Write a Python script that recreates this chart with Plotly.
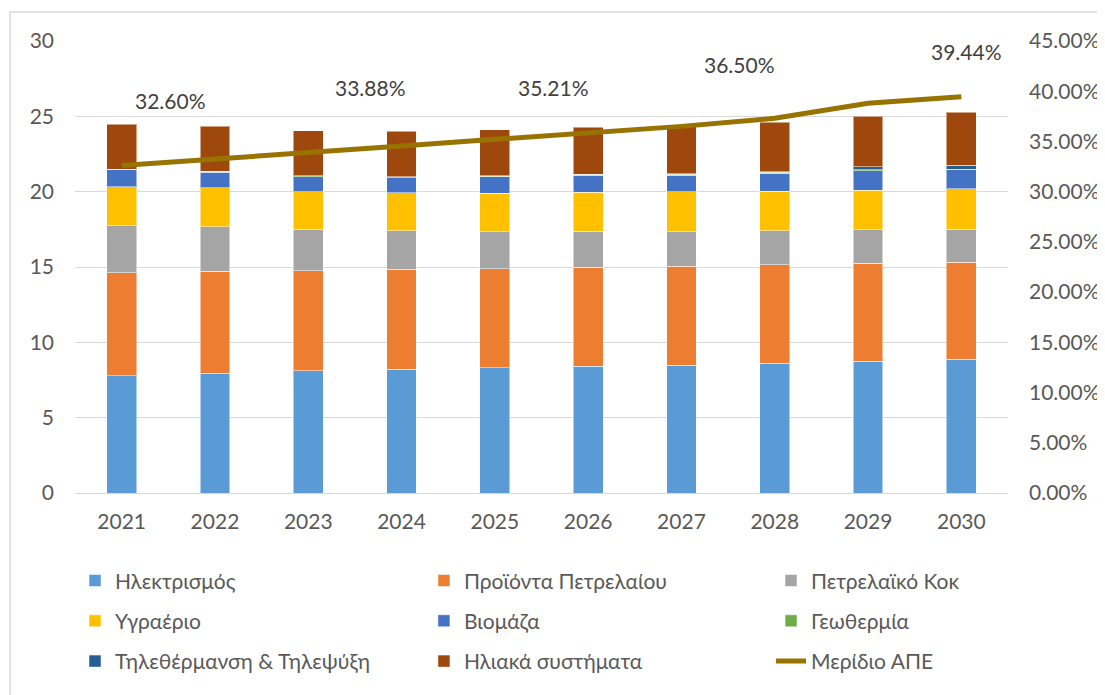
import plotly.graph_objects as go

years = ["2021", "2022", "2023", "2024", "2025", "2026", "2027", "2028", "2029", "2030"]

electricity = [7.79, 7.94, 8.10, 8.20, 8.30, 8.40, 8.48, 8.61, 8.74, 8.87]
oil_products = [6.83, 6.79, 6.65, 6.65, 6.57, 6.58, 6.57, 6.54, 6.51, 6.46]
pet_coke = [3.12, 2.95, 2.75, 2.54, 2.47, 2.39, 2.29, 2.24, 2.21, 2.17]
lpg = [2.59, 2.58, 2.50, 2.54, 2.57, 2.59, 2.64, 2.65, 2.65, 2.68]
biomass = [1.11, 1.04, 1.00, 1.00, 1.07, 1.12, 1.12, 1.19, 1.27, 1.26]
geothermal = [0.05, 0.05, 0.05, 0.06, 0.06, 0.07, 0.07, 0.07, 0.06, 0.06]
district = [0.01, 0.01, 0.01, 0.01, 0.01, 0.01, 0.02, 0.02, 0.20, 0.25]
solar = [2.98, 2.99, 2.99, 3.00, 3.05, 3.12, 3.13, 3.28, 3.38, 3.52]
res_share = [0.3260, 0.3322, 0.3388, 0.3455, 0.3521, 0.3587, 0.3650, 0.3730, 0.3880, 0.3944]

label_years = ["2021", "2023", "2025", "2027", "2030"]
label_values = [0.3260, 0.3388, 0.3521, 0.3650, 0.3944]

names = ["Ηλεκτρισμός", "Προϊόντα Πετρελαίου", "Πετρελαϊκό Κοκ", "Υγραέριο", "Βιομάζα",
         "Γεωθερμία", "Τηλεθέρμανση & Τηλεψύξη", "Ηλιακά συστήματα"]
line_name = "Μερίδιο ΑΠΕ"

series = [electricity, oil_products, pet_coke, lpg, biomass, geothermal, district, solar]
colors = ["#5B9BD5", "#ED7D31", "#A5A5A5", "#FFC000", "#4472C4", "#70AD47", "#255E91", "#9E480E"]
# legend column assignment (Excel lays entries row by row across 3 columns)
legend_cols = ["legend", "legend2", "legend3", "legend", "legend2", "legend3", "legend", "legend2"]

label_xshift = [49, 62, 59, 58, 5]
label_yshift = [65, 65, 52, 62, 45]

FONT = "Lato"
TXT = "#595959"
FS = 21

fig = go.Figure()
for name, vals, col, lg in zip(names, series, colors, legend_cols):
    fig.add_trace(go.Bar(
        x=years, y=vals, name=name, marker_color=col,
        marker_line=dict(color="rgba(255,255,255,0.5)", width=1),
        legend=lg, legendgroup=name,
    ))

fig.add_trace(go.Scatter(
    x=years, y=res_share, name=line_name, yaxis="y2", mode="lines",
    line=dict(color="#997300", width=5), legend="legend3", legendgroup=line_name,
))

for yr, v, dx, dy in zip(label_years, label_values, label_xshift, label_yshift):
    fig.add_annotation(x=years.index(yr), y=v, xref="x", yref="y2", text=f"{v*100:.2f}%",
                       showarrow=False, xshift=dx, yshift=dy,
                       font=dict(family=FONT, size=FS, color="#404040"))

legend_common = dict(orientation="v", yanchor="top", y=-0.149, xanchor="left",
                     font=dict(family=FONT, size=FS, color=TXT), tracegroupgap=10,
                     bgcolor="rgba(0,0,0,0)", itemwidth=30)

# the page body has an 8px margin, so margins are offset to keep the plot area in place
fig.update_layout(
    width=1105, height=695,
    margin=dict(l=67, r=105, t=33, b=210, autoexpand=False),
    paper_bgcolor="white", plot_bgcolor="white",
    barmode="stack", bargap=0.68,
    font=dict(family=FONT, size=FS, color=TXT),
    showlegend=True,
    legend=dict(x=0.0, **legend_common),
    legend2=dict(x=0.374, **legend_common),
    legend3=dict(x=0.746, **legend_common),
    xaxis=dict(type="category", range=[-0.5, len(years) - 0.5], autorange=False,
               showgrid=False, showline=True, linecolor="#d9d9d9", linewidth=1,
               ticks="", tickfont=dict(family=FONT, size=FS, color=TXT),
               ticklabelstandoff=10),
    yaxis=dict(range=[0, 30], dtick=5, showgrid=True, gridcolor="#d9d9d9", gridwidth=1,
               zeroline=False, showline=False, ticks="",
               tickfont=dict(family=FONT, size=FS, color=TXT), ticklabelstandoff=20),
    yaxis2=dict(range=[0, 0.45], dtick=0.05, tickformat=".2%", overlaying="y", side="right",
                showgrid=False, zeroline=False, showline=False, ticks="",
                tickfont=dict(family=FONT, size=FS, color=TXT), ticklabelstandoff=20),
    shapes=[dict(type="rect", xref="paper", yref="paper",
                 x0=(10 - 75) / 933, x1=1.2, y0=-0.6, y1=(493 - 12) / 452,
                 line=dict(color="#d9d9d9", width=1.5), fillcolor="rgba(0,0,0,0)", layer="below")],
)

fig.write_html("out.html")
